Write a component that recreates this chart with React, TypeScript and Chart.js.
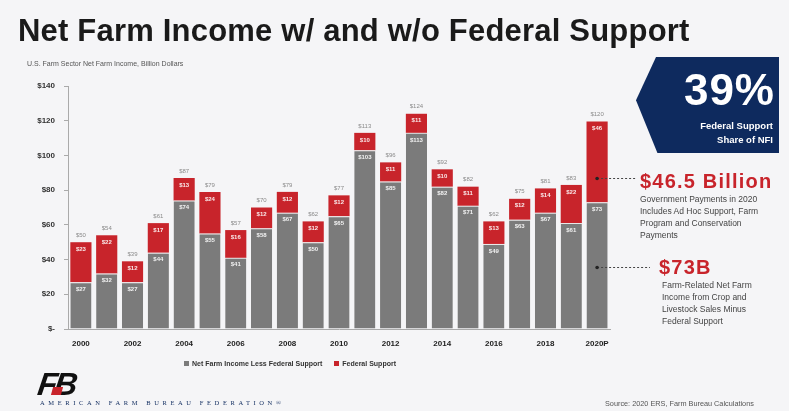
import React, { useEffect, useRef } from "react";
import { Chart, registerables } from "chart.js";

Chart.register(...registerables);

const years = ["2000","2001","2002","2003","2004","2005","2006","2007","2008","2009","2010","2011","2012","2013","2014","2015","2016","2017","2018","2019","2020P"];
const lessFederal = [27, 32, 27, 44, 74, 55, 41, 58, 67, 50, 65, 103, 85, 113, 82, 71, 49, 63, 67, 61, 73];
const federal = [23, 22, 12, 17, 13, 24, 16, 12, 12, 12, 12, 10, 11, 11, 10, 11, 13, 12, 14, 22, 46.5];
const yTicks = [0, 20, 40, 60, 80, 100, 120, 140];
const seriesNames = ["Net Farm Income Less Federal Support", "Federal Support"];
const leaderValues = [87, 36];

const GRAY = "#7b7b7b";
const RED = "#c8242b";
const NAVY = "#0e2a5e";
const FONT = "'Liberation Sans', Arial, sans-serif";

const labelPlugin = {
  id: "labels",
  afterDatasetsDraw(chart: any) {
    const ctx = chart.ctx;
    const m0 = chart.getDatasetMeta(0).data;
    const m1 = chart.getDatasetMeta(1).data;
    ctx.save();
    ctx.textAlign = "center";
    ctx.textBaseline = "middle";
    for (let i = 0; i < years.length; i++) {
      const g = m0[i];
      const r = m1[i];
      ctx.font = `bold 6px ${FONT}`;
      ctx.fillStyle = "rgba(255,255,255,0.9)";
      ctx.fillText("$" + Math.floor(lessFederal[i]), g.x, g.y + 7);
      ctx.fillText("$" + Math.floor(federal[i]), r.x, r.y + 7);
      ctx.fillStyle = "#8a8a8a";
      ctx.font = `6px ${FONT}`;
      ctx.fillText("$" + Math.round(lessFederal[i] + federal[i]), r.x, r.y - 7);
    }
    const last = years.length - 1;
    const cx = m0[last].x;
    const ys = chart.scales.y;
    const ends = [636, 650];
    ctx.strokeStyle = "#444";
    ctx.fillStyle = "#222";
    ctx.lineWidth = 1;
    leaderValues.forEach((v, k) => {
      const py = Math.round(ys.getPixelForValue(v)) + 0.5;
      ctx.setLineDash([2, 2]);
      ctx.beginPath();
      ctx.moveTo(cx, py);
      ctx.lineTo(ends[k], py);
      ctx.stroke();
      ctx.setLineDash([]);
      ctx.beginPath();
      ctx.arc(cx, py, 1.8, 0, Math.PI * 2);
      ctx.fill();
    });
    ctx.restore();
  },
};

export default function App() {
  const ref = useRef<HTMLCanvasElement>(null);
  useEffect(() => {
    const chart = new Chart(ref.current!, {
      type: "bar",
      data: {
        labels: years,
        datasets: [
          { label: seriesNames[0], data: lessFederal, backgroundColor: GRAY, borderColor: "#e8e8e8", borderWidth: { top: 1, left: 0, right: 0, bottom: 0 } as any, borderSkipped: false },
          { label: seriesNames[1], data: federal, backgroundColor: RED },
        ],
      },
      options: {
        animation: false,
        responsive: false,
        devicePixelRatio: 1,
        layout: { padding: { left: 0, right: 179, top: 86, bottom: 0 } },
        plugins: { legend: { display: false }, tooltip: { enabled: false }, title: { display: false } },
        datasets: { bar: { barPercentage: 0.82, categoryPercentage: 1 } },
        scales: {
          x: {
            stacked: true,
            afterFit: (s: any) => { s.height = 82; },
            grid: { display: false },
            border: { display: true, color: "#aaa" },
            ticks: {
              autoSkip: false,
              maxRotation: 0,
              padding: 2,
              color: "#222",
              font: { family: FONT, size: 8, weight: "bold" },
              callback: (_v: any, i: number) => (i % 2 === 0 ? years[i] : ""),
            },
          },
          y: {
            stacked: true,
            min: 0,
            max: 140,
            afterFit: (s: any) => { s.width = 68; },
            afterBuildTicks: (s: any) => { s.ticks = yTicks.map((v) => ({ value: v })); },
            grid: { drawOnChartArea: false, drawTicks: true, tickLength: 4, color: "#aaa" },
            border: { display: true, color: "#aaa" },
            ticks: {
              padding: 9,
              color: "#333",
              font: { family: FONT, size: 8, weight: "bold" },
              callback: (v: any) => (v === 0 ? "$-" : "$" + v),
            },
          },
        },
      },
      plugins: [labelPlugin],
    });
    return () => chart.destroy();
  }, []);

  const txt: React.CSSProperties = { position: "absolute", fontFamily: FONT, whiteSpace: "nowrap" };

  return (
    <div style={{ position: "absolute", left: 0, top: 0, width: 789, height: 411, background: "#f5f5f7", overflow: "hidden" }}>
      <canvas ref={ref} width={789} height={411} style={{ position: "absolute", left: 0, top: 0, width: 789, height: 411 }} />
      <div style={{ ...txt, left: 18, top: 13, fontSize: 31, fontWeight: "bold", color: "#1a1a1a", letterSpacing: 0.2 }}>
        Net Farm Income w/ and w/o Federal Support
      </div>
      <div style={{ ...txt, left: 27, top: 60, fontSize: 7, color: "#555" }}>U.S. Farm Sector Net Farm Income, Billion Dollars</div>

      <div style={{ position: "absolute", left: 636, top: 57, width: 143, height: 96, background: NAVY, clipPath: "polygon(14% 0, 100% 0, 100% 100%, 15% 100%, 0 45%)" }} />
      <div style={{ ...txt, right: 14, top: 65, fontSize: 44, fontWeight: "bold", color: "#fff", letterSpacing: 1 }}>39%</div>
      <div style={{ ...txt, right: 16, top: 119, fontSize: 9.5, fontWeight: "bold", color: "#fff", textAlign: "right", lineHeight: "14px" }}>
        Federal Support<br />Share of NFI
      </div>

      <div style={{ ...txt, left: 640, top: 170, fontSize: 20, fontWeight: "bold", color: RED, letterSpacing: 1.2 }}>$46.5 Billion</div>
      <div style={{ ...txt, left: 640, top: 193, fontSize: 8.5, color: "#444", lineHeight: "12px" }}>
        Government Payments in 2020<br />Includes Ad Hoc Support, Farm<br />Program and Conservation<br />Payments
      </div>
      <div style={{ ...txt, left: 659, top: 256, fontSize: 20, fontWeight: "bold", color: RED, letterSpacing: 1.2 }}>$73B</div>
      <div style={{ ...txt, left: 662, top: 279, fontSize: 8.5, color: "#444", lineHeight: "12px" }}>
        Farm-Related Net Farm<br />Income from Crop and<br />Livestock Sales Minus<br />Federal Support
      </div>

      <div style={{ ...txt, left: 184, top: 360, fontSize: 7, fontWeight: "bold", color: "#333", display: "flex", alignItems: "center" }}>
        <span style={{ display: "inline-block", width: 5, height: 5, background: GRAY, marginRight: 3 }} />
        {seriesNames[0]}
        <span style={{ display: "inline-block", width: 5, height: 5, background: RED, marginLeft: 12, marginRight: 3 }} />
        {seriesNames[1]}
      </div>

      <div style={{ ...txt, left: 38, top: 366, fontSize: 32, fontWeight: 900, fontStyle: "italic", color: "#111", letterSpacing: -3, transform: "skewX(-8deg)" }}>
        FB
      </div>
      <div style={{ position: "absolute", left: 52, top: 387, width: 10, height: 8, background: RED, transform: "skewX(-15deg)" }} />
      <div style={{ ...txt, left: 40, top: 399, fontSize: 6.5, fontFamily: "'Liberation Serif', serif", color: NAVY, letterSpacing: 3.6 }}>
        AMERICAN FARM BUREAU FEDERATION®
      </div>
      <div style={{ ...txt, left: 605, top: 399, fontSize: 7.3, color: "#555" }}>Source: 2020 ERS, Farm Bureau Calculations</div>
    </div>
  );
}
